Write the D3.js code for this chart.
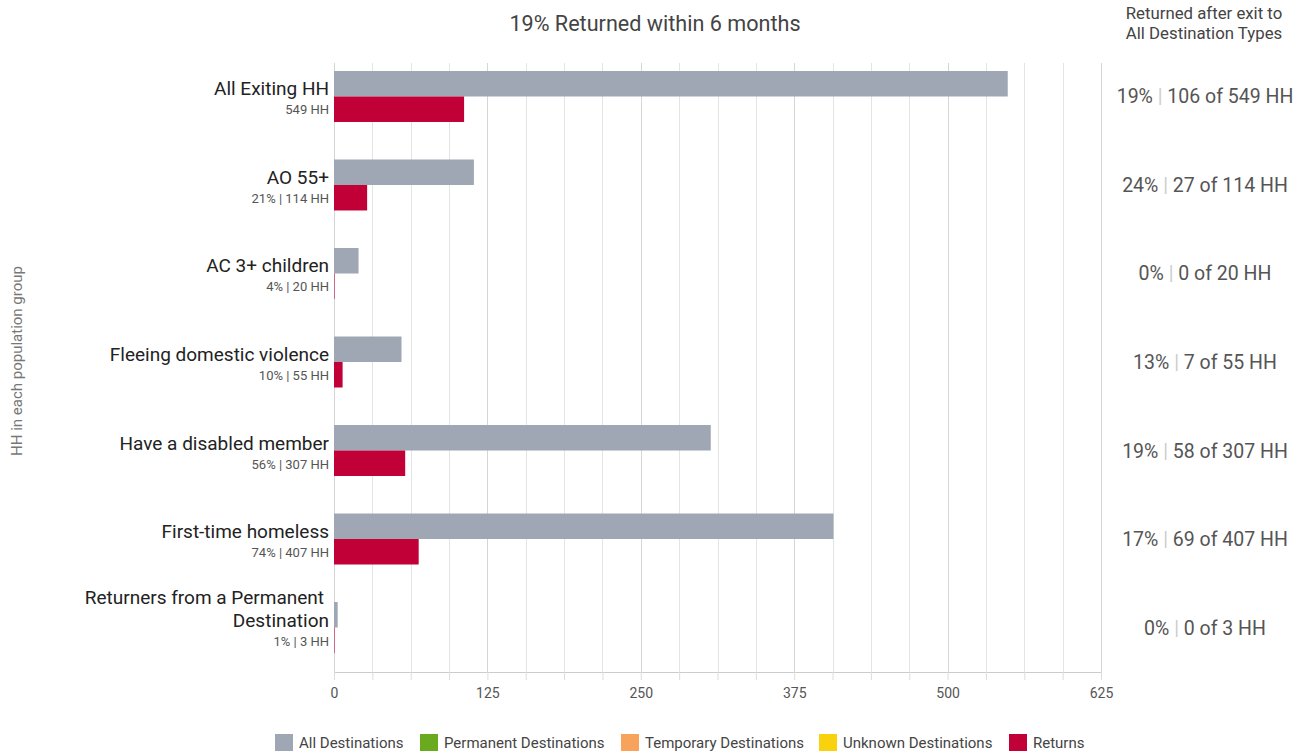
<!DOCTYPE html>
<html>
<head>
<meta charset="utf-8">
<script src="https://cdn.jsdelivr.net/npm/d3@7"></script>
<style>
  body { margin: 0; background: #fff; font-family: Roboto, "Noto Sans", sans-serif; }
</style>
</head>
<body>
<script>
// population groups, top to bottom
var categories = ['All Exiting HH', 'AO 55+', 'AC 3+ children', 'Fleeing domestic violence',
  'Have a disabled member', 'First-time homeless', 'Returners from a Permanent Destination'];
var subLabels = ['549 HH', '21% | 114 HH', '4% | 20 HH', '10% | 55 HH', '56% | 307 HH', '74% | 407 HH', '1% | 3 HH'];
var allDestinations = [549, 114, 20, 55, 307, 407, 3];
var returns = [106, 27, 0, 7, 58, 69, 0];
var returnPct = ['19%', '24%', '0%', '13%', '19%', '17%', '0%'];
var xTicks = [0, 125, 250, 375, 500, 625];
var legendItems = ['All Destinations', 'Permanent Destinations', 'Temporary Destinations', 'Unknown Destinations', 'Returns'];
var legendColors = ['#9ea7b3', '#6aaa1e', '#f7a35c', '#f8d20f', '#c10037'];

var W = 1295, H = 751;
var svg = d3.select('body').append('svg')
  .attr('width', W)
  .attr('height', H);

var margin = { left: 334, right: 194, top: 63, bottom: 79 };

var x = d3.scaleLinear().domain([0, 625]).range([margin.left, W - margin.right]);
var y = d3.scaleBand().domain(categories).range([53.3, 670.7]).paddingInner(0.424).paddingOuter(0.2);

// gridlines
var grid = d3.range(0, 625.01, 31.25);
svg.append('g').selectAll('line')
  .data(grid)
  .enter().append('line')
    .attr('x1', function(d) { return Math.round(x(d)) + 0.5; })
    .attr('x2', function(d) { return Math.round(x(d)) + 0.5; })
    .attr('y1', margin.top)
    .attr('y2', H - margin.bottom)
    .style('stroke', function(d) { return d % 125 === 0 ? '#d6d6d6' : '#e4e4e4'; })
    .style('stroke-width', 1);

// x axis
var axis = svg.append('g')
  .attr('transform', 'translate(0,' + (H - margin.bottom) + ')')
  .call(d3.axisBottom(x).tickValues(grid).tickSize(8).tickFormat(function(d) {
    return xTicks.indexOf(d) >= 0 ? d : '';
  }));
axis.select('.domain').style('stroke', '#ccc');
axis.selectAll('.tick line').style('stroke', '#ddd');
axis.selectAll('.tick text')
  .attr('dy', '1.1em')
  .style('font-family', 'Roboto')
  .style('font-size', '14px')
  .style('fill', '#555');

var bh = y.bandwidth() / 2;

// gray bars
svg.append('g').selectAll('rect')
  .data(allDestinations)
  .enter().append('rect')
    .attr('x', x(0))
    .attr('y', function(d, i) { return y(categories[i]); })
    .attr('width', function(d) { return Math.max(1, x(d) - x(0)); })
    .attr('height', bh)
    .style('fill', legendColors[0]);

// returns bars
svg.append('g').selectAll('rect')
  .data(returns)
  .enter().append('rect')
    .attr('x', x(0))
    .attr('y', function(d, i) { return y(categories[i]) + bh; })
    .attr('width', function(d) { return Math.max(1, x(d) - x(0)); })
    .attr('height', bh)
    .style('fill', legendColors[4])
    .style('fill-opacity', function(d) { return d === 0 ? 0.5 : 1; });

// category labels
var labels = svg.append('g').selectAll('g')
  .data(categories)
  .enter().append('g')
    .attr('transform', function(d) { return 'translate(' + (margin.left - 5) + ',' + (y(d) + y.bandwidth() / 2) + ')'; });

labels.each(function(d, i) {
  var g = d3.select(this);
  var lines = d === 'Returners from a Permanent Destination' ? ['Returners from a Permanent ', 'Destination'] : [d];
  var start = lines.length === 1 ? -1 : -24;
  lines.forEach(function(l, j) {
    g.append('text')
      .attr('x', l.slice(-1) === ' ' ? -5 : 0)
      .attr('y', start + j * 23)
      .attr('text-anchor', 'end')
      .style('font-size', '19px')
      .style('fill', '#222')
      .text(l.trim());
  });
  g.append('text')
    .attr('y', start + (lines.length - 1) * 23 + 19)
    .attr('text-anchor', 'end')
    .style('font-size', '13px')
    .style('fill', '#555')
    .text(subLabels[i]);
});

// right side summary
var rx = 1205;
var right = svg.append('g').selectAll('text')
  .data(categories)
  .enter().append('text')
    .attr('x', rx)
    .attr('y', function(d) { return y(d) + y.bandwidth() / 2 + 7; })
    .attr('text-anchor', 'middle')
    .style('font-size', '19.5px')
    .style('fill', '#555');
right.append('tspan').text(function(d, i) { return returnPct[i] + ' '; });
right.append('tspan').style('fill', '#ccc').text('|');
right.append('tspan').text(function(d, i) { return ' ' + returns[i] + ' of ' + allDestinations[i] + ' HH'; });

svg.append('text')
  .attr('x', 1204).attr('y', 19)
  .attr('text-anchor', 'middle')
  .style('font-size', '16.8px').style('fill', '#444')
  .text('Returned after exit to');
svg.append('text')
  .attr('x', 1204).attr('y', 39)
  .attr('text-anchor', 'middle')
  .style('font-size', '16.8px').style('fill', '#444')
  .text('All Destination Types');

// title
svg.append('text')
  .attr('x', 655).attr('y', 31)
  .attr('text-anchor', 'middle')
  .style('font-size', '21.6px').style('fill', '#444')
  .text('19% Returned within 6 months');

// y axis title
svg.append('text')
  .attr('transform', 'translate(22,' + 361 + ') rotate(-90)')
  .attr('text-anchor', 'middle')
  .style('font-size', '15px').style('fill', '#777')
  .text('HH in each population group');

// legend
var legendX = [275, 420, 621, 819, 1009];
var leg = svg.append('g').selectAll('g')
  .data(legendItems)
  .enter().append('g')
    .attr('transform', function(d, i) { return 'translate(' + legendX[i] + ',734)'; });
leg.append('rect')
  .attr('width', 18).attr('height', 17)
  .style('fill', function(d, i) { return legendColors[i]; });
leg.append('text')
  .attr('x', 24).attr('y', 14)
  .style('font-size', '15px').style('fill', '#444')
  .text(function(d) { return d; });
</script>
</body>
</html>
